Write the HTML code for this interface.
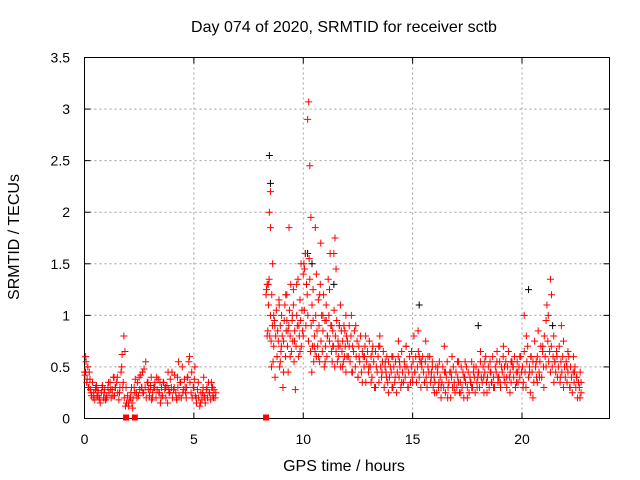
<!DOCTYPE html>
<html><head><meta charset="utf-8"><style>
body{margin:0;background:#fff}
svg{display:block;font-family:"Liberation Sans",sans-serif}
</style></head><body>
<svg id="chart" width="640" height="480" viewBox="0 0 640 480"></svg>
<script>
const xTicks=[0,5,10,15,20];
const yTicks=[0,0.5,1,1.5,2,2.5,3,3.5];
const yTickLabels=["0","0.5","1","1.5","2","2.5","3","3.5"];
const redX=[0.0,0.05,0.1,0.15,0.2,0.3,0.4,0.5,0.6,0.7,0.8,0.9,1.0,1.1,1.2,1.3,1.4,1.5,1.6,1.7,1.8,1.85,1.9,2.0,2.1,2.2,2.3,2.4,2.5,2.6,2.7,2.8,2.9,3.0,3.1,3.2,3.3,3.4,3.5,3.6,3.7,3.8,3.9,4.0,4.1,4.2,4.3,4.4,4.5,4.6,4.7,4.8,4.9,5.0,5.1,5.2,5.3,5.4,5.5,5.6,5.7,5.8,5.9,6.0,
0.25,0.55,0.95,1.35,1.75,2.15,2.65,3.05,3.45,3.85,4.25,4.65,5.05,5.45,5.85,
8.3,8.35,8.4,8.45,8.5,8.55,8.6,8.7,8.8,8.9,9.0,9.1,9.2,9.3,9.4,9.5,9.6,9.7,9.8,9.9,10.0,10.1,10.15,10.2,10.25,10.3,10.35,10.4,10.5,10.6,10.7,10.8,10.9,11.0,11.1,11.2,11.3,11.4,11.5,11.6,11.7,11.8,11.9,12.0,
8.65,8.95,9.25,9.55,9.85,10.05,10.45,10.75,11.05,11.35,11.65,11.95,8.5,9.35,10.55,11.45,
12.1,12.25,12.4,12.55,12.7,12.85,13.0,13.15,13.3,13.45,13.6,13.75,13.9,14.05,14.2,14.35,14.5,14.65,14.8,14.95,15.1,15.25,15.4,15.55,15.7,15.85,16.0,16.15,16.3,16.45,16.6,16.75,16.9,17.05,17.2,17.35,17.5,17.65,17.8,17.95,18.1,18.25,18.4,18.55,18.7,18.85,19.0,19.15,19.3,19.45,19.6,19.75,19.9,20.05,20.2,20.35,20.5,20.65,20.8,20.95,21.1,21.2,21.3,21.35,21.45,21.6,21.75,21.9,22.05,22.2,22.35,22.5,22.65,
12.2,12.5,12.8,13.1,13.5,13.8,14.1,14.4,14.7,15.0,15.3,15.6,15.9,16.2,16.5,16.8,17.1,17.4,17.7,18.0,18.3,18.6,18.9,19.2,19.5,19.8,20.1,20.4,20.7,21.0,21.5,21.8,22.1,22.4,22.7];
const redY=[0.45,0.6,0.35,0.5,0.3,0.25,0.2,0.28,0.22,0.18,0.3,0.25,0.2,0.35,0.28,0.22,0.3,0.4,0.25,0.5,0.8,0.65,0.3,0.15,0.2,0.1,0.25,0.2,0.4,0.3,0.25,0.55,0.35,0.28,0.2,0.3,0.4,0.25,0.2,0.35,0.3,0.15,0.25,0.45,0.3,0.2,0.55,0.35,0.25,0.3,0.4,0.6,0.45,0.3,0.2,0.35,0.15,0.25,0.2,0.3,0.25,0.35,0.2,0.25,
0.38,0.32,0.18,0.4,0.3,0.3,0.45,0.4,0.35,0.28,0.4,0.2,0.5,0.4,0.3,
1.2,0.8,1.3,2.0,1.85,0.5,1.5,0.9,0.6,1.1,0.7,0.45,1.2,0.85,0.6,1.0,0.75,1.3,0.9,1.5,0.8,1.6,1.3,2.9,3.07,2.45,1.95,1.1,0.7,1.4,0.6,1.7,1.0,0.55,0.8,1.25,0.9,1.6,1.45,0.7,1.1,0.5,0.85,0.6,
1.0,0.55,0.95,1.25,0.65,1.05,0.95,1.2,0.95,0.7,0.9,1.0,2.2,1.85,1.85,1.75,
0.7,0.45,0.9,0.6,0.35,0.8,0.5,0.65,0.3,0.7,0.45,0.55,0.25,0.6,0.4,0.75,0.35,0.5,0.3,0.65,0.45,0.85,0.55,0.35,0.6,0.4,0.25,0.5,0.3,0.7,0.2,0.45,0.3,0.55,0.25,0.4,0.2,0.35,0.5,0.3,0.65,0.4,0.25,0.45,0.3,0.55,0.35,0.7,0.4,0.25,0.5,0.35,0.6,0.3,0.8,0.45,0.2,0.55,0.4,0.7,0.5,1.0,1.35,1.2,0.8,0.6,0.4,0.75,0.5,0.3,0.6,0.4,0.2,
1.0,0.4,0.6,0.35,0.8,0.4,0.3,0.55,0.7,0.35,0.6,0.75,0.5,0.35,0.45,0.6,0.35,0.55,0.3,0.45,0.55,0.35,0.4,0.5,0.55,0.45,1.0,0.6,0.35,0.3,0.55,0.9,0.65,0.45,0.35];
// uniformly sampled segments: start hour, sample step (hours), values
const segStart=[0.02,8.32,12.02];
const segStep=[0.05,0.03,0.04];
const segA=[.42,.55,.38,.3,.45,.28,.22,.35,.25,.18,.3,.22,.27,.2,.15,.25,.32,.2,.28,.18,.22,.3,.25,.35,.2,.28,.4,.22,.3,.35,.25,.18,.3,.45,.62,.35,.2,.12,.15,.22,.12,.18,.25,.15,.2,.3,.38,.25,.35,.22,.28,.42,.3,.25,.48,.3,.2,.35,.28,.22,.32,.18,.25,.3,.35,.2,.28,.38,.25,.15,.3,.22,.35,.28,.2,.32,.45,.25,.38,.3,.2,.28,.42,.25,.18,.3,.22,.35,.2,.5,.28,.38,.25,.3,.4,.55,.35,.25,.2,.3,.38,.22,.15,.28,.2,.12,.25,.18,.3,.22,.15,.28,.2,.35,.25,.18,.3,.22,.28,.2];
const segB=[1.25,1.3,.85,1.1,1.35,.8,1.0,.75,1.2,.9,.55,.7,.95,.4,.8,1.05,.6,.85,.75,1.15,.5,.9,.65,1.0,.8,.3,.75,.95,1.1,.6,.85,1.2,.7,.45,.9,1.05,.8,1.3,.65,.95,.75,1.1,.55,.85,.28,.7,1.0,.9,1.35,.6,.8,1.15,.95,.7,1.05,.85,1.4,1.5,1.45,1.6,.9,1.3,1.2,1.0,.75,1.55,1.35,.65,.9,.45,.7,1.25,.55,.8,.65,1.0,.6,.85,.7,1.15,.9,.55,1.3,.75,1.0,.65,.85,1.2,.5,.95,.7,1.1,.6,.8,1.35,1.0,.75,1.6,.9,.65,.55,.85,.7,1.05,.5,.8,.65,.95,.55,.75,.6,.9,.7,.5,.85,.65,.75,.55,.9,.6,.7,.45,.8];
const segC=[.75,.6,.9,.55,.8,.45,.7,.65,.85,.5,.6,.75,.4,.7,.55,.8,.45,.65,.6,.5,.7,.35,.55,.65,.45,.75,.5,.6,.4,.7,.55,.3,.65,.5,.45,.6,.35,.7,.5,.4,.55,.65,.3,.5,.45,.6,.35,.55,.4,.5,
.45,.3,.6,.5,.35,.55,.25,.45,.6,.4,.5,.3,.65,.45,.35,.55,.4,.7,.5,.3,.45,.6,.35,.5,.4,.55,.8,.45,.6,.35,.5,.65,.4,.55,.3,.5,.6,.45,.35,.55,.4,.3,.5,.45,.6,.35,.45,.55,.3,.4,
.35,.5,.25,.45,.3,.55,.4,.2,.35,.5,.3,.45,.25,.4,.55,.3,.35,.45,.2,.4,.3,.5,.35,.25,.45,.3,.4,.55,.25,.35,.5,.3,.45,.2,.4,.35,.5,.3,.45,.25,.4,.35,.55,.3,.45,.4,.25,.5,.35,.4,
.45,.3,.55,.4,.35,.5,.25,.45,.6,.35,.4,.5,.3,.55,.45,.35,.6,.4,.3,.5,.45,.65,.35,.4,.55,.3,.5,.45,.6,.4,.35,.55,.3,.5,.65,.4,.45,.35,.55,.5,.4,.6,.3,.45,.55,.35,.5,.4,.6,.45,
.5,.35,.65,.45,.3,.55,.7,.4,.5,.25,.6,.45,.55,.35,.75,.5,.4,.6,.85,.45,.55,.7,.4,.65,.5,.8,.6,.95,1.1,.75,.55,.65,.45,.7,.5,.6,.35,.55,.45,.65,.4,.5,.7,.35,.55,.45,.6,.3,.5,.4,.55,.35,.45,.6,.3,.5,.4,.25,.45,.35,.5,.3,.4,.2,.35,.3,.45,.25];
const blackX=[0.05,8.45,8.5,10.2,10.4,11.4,15.3,18.0,20.3,21.4];
const blackY=[0.45,2.55,2.28,1.6,1.5,1.3,1.1,0.9,1.25,0.9];
const zeroX=[1.9,2.3,8.3];

const NS="http://www.w3.org/2000/svg";
const svg=document.getElementById('chart');
const L=84.5,R=609.5,T=57.5,B=418.5,XMAX=24,YMAX=3.5;
const sx=v=>L+(R-L)*v/XMAX, sy=v=>B-(B-T)*v/YMAX;
function mk(tag,attrs,parent){const e=document.createElementNS(NS,tag);for(const k in attrs)e.setAttribute(k,attrs[k]);(parent||svg).appendChild(e);return e;}
const grid=mk('g',{stroke:'#a0a0a0','stroke-dasharray':'2,3','stroke-width':1});


xTicks.forEach(t=>{if(t>0)mk('line',{x1:sx(t),x2:sx(t),y1:T,y2:B},grid);});
yTicks.forEach(t=>{if(t>0&&t<YMAX)mk('line',{x1:L,x2:R,y1:sy(t),y2:sy(t)},grid);});
const ax=mk('g',{stroke:'#000','stroke-width':1});


mk('rect',{x:L,y:T,width:R-L,height:B-T,fill:'none'},ax);
xTicks.forEach(t=>{mk('line',{x1:sx(t),x2:sx(t),y1:B,y2:B-6},ax);mk('line',{x1:sx(t),x2:sx(t),y1:T,y2:T+6},ax);});
yTicks.forEach(t=>{mk('line',{x1:L,x2:L+6,y1:sy(t),y2:sy(t)},ax);mk('line',{x1:R,x2:R-6,y1:sy(t),y2:sy(t)},ax);});
xTicks.forEach(t=>{const e=mk('text',{x:sx(t),y:444,'text-anchor':'middle','font-size':14,fill:'#000'});e.textContent=t;

});
yTicks.forEach((t,i)=>{const e=mk('text',{x:70,y:sy(t)+5,'text-anchor':'end','font-size':14,fill:'#000'});e.textContent=yTickLabels[i];

});
function plus(g,x,y,c){const X=sx(x),Y=sy(y);mk('path',{d:`M${X-3.5} ${Y}H${X+3.5}M${X} ${Y-3.5}V${Y+3.5}`,stroke:c,'stroke-width':1,fill:'none'},g);}
const bg=mk('g',{});


blackX.forEach((x,i)=>plus(bg,x,blackY[i],'#000'));
const rg=mk('g',{});


redX.forEach((x,i)=>plus(rg,x,redY[i],'#f00'));
[segA,segB,segC].forEach((vals,s)=>vals.forEach((v,i)=>plus(rg,segStart[s]+segStep[s]*i,v,'#f00')));
zeroX.forEach(x=>{const r=mk('rect',{x:sx(x)-3,y:B-4,width:6,height:6,fill:'#f00'},rg);

});
const title=mk('text',{x:344,y:32,'text-anchor':'middle','font-size':16,fill:'#000'});title.textContent='Day 074 of 2020, SRMTID for receiver sctb';


const xt=mk('text',{x:344,y:471,'text-anchor':'middle','font-size':16,fill:'#000'});xt.textContent='GPS time / hours';


const yt=mk('text',{x:19,y:237,'text-anchor':'middle','font-size':16,fill:'#000',transform:'rotate(-90 19 237)'});yt.textContent='SRMTID / TECUs';


</script>
</body></html>
